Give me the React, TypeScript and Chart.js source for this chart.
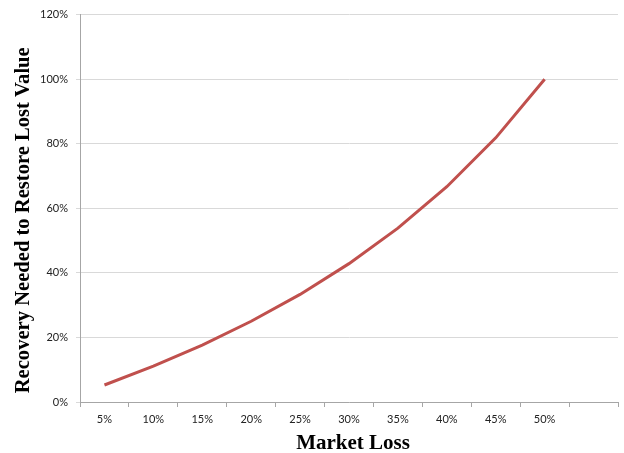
import React, { useEffect, useRef } from "react";
import { Chart, registerables } from "chart.js";

Chart.register(...registerables);

const categories = ["5%", "10%", "15%", "20%", "25%", "30%", "35%", "40%", "45%", "50%", ""];
const recovery = [0.0526, 0.1111, 0.1765, 0.25, 0.3333, 0.4286, 0.5385, 0.6667, 0.8182, 1.0, null];
const yTicks = [0, 0.2, 0.4, 0.6, 0.8, 1.0, 1.2];
const xTitle = "Market Loss";
const yTitle = "Recovery Needed to Restore Lost Value";

const titlePlugin = {
  id: "axisTitles",
  afterDraw(chart: any) {
    const ctx = chart.ctx;
    const area = chart.chartArea;
    ctx.save();
    ctx.fillStyle = "#000";
    ctx.font = "bold 21px 'Liberation Serif'";
    ctx.textAlign = "center";
    ctx.textBaseline = "alphabetic";
    ctx.fillText(xTitle, (area.left + area.right) / 2 + 4, 449);
    ctx.translate(29, (area.top + area.bottom) / 2 + 12);
    ctx.rotate(-Math.PI / 2);
    ctx.font = "bold 20.6px 'Liberation Serif'";
    ctx.fillText(yTitle, 0, 0);
    ctx.restore();
  },
};

export default function App() {
  const ref = useRef<HTMLCanvasElement>(null);
  useEffect(() => {
    document.body.style.margin = "0";
    const chart = new Chart(ref.current!, {
      type: "line",
      data: {
        labels: categories,
        datasets: [
          {
            data: recovery,
            borderColor: "#c0504d",
            borderWidth: 3,
            pointRadius: 0,
            tension: 0,
            fill: false,
          },
        ],
      },
      plugins: [titlePlugin],
      options: {
        animation: false,
        responsive: false,
        layout: { padding: { top: 13, right: 6, left: 0, bottom: 0 } },
        plugins: { legend: { display: false }, tooltip: { enabled: false } },
        scales: {
          x: {
            offset: true,
            grid: { offset: true, drawOnChartArea: false, tickLength: 5, color: "#a6a6a6" },
            border: { color: "#a6a6a6" },
            ticks: {
              font: { family: "Lato", size: 11 },
              color: "#222",
              padding: 6,
              maxRotation: 0,
              autoSkip: false,
            },
            afterFit: (s: any) => {
              s.height = 51;
            },
          },
          y: {
            min: 0,
            max: 1.2,
            afterBuildTicks: (s: any) => {
              s.ticks = yTicks.map((v) => ({ value: v }));
            },
            grid: { color: "#d9d9d9", tickLength: 4 },
            border: { color: "#a6a6a6" },
            ticks: {
              font: { family: "Lato", size: 11 },
              color: "#222",
              padding: 8,
              callback: (v: any) => Math.round(Number(v) * 100) + "%",
            },
            afterFit: (s: any) => {
              s.width = 80;
            },
          },
        },
      },
    });
    return () => chart.destroy();
  }, []);
  return (
    <div style={{ width: 624, height: 453, background: "#fff" }}>
      <canvas ref={ref} width={624} height={453} />
    </div>
  );
}
